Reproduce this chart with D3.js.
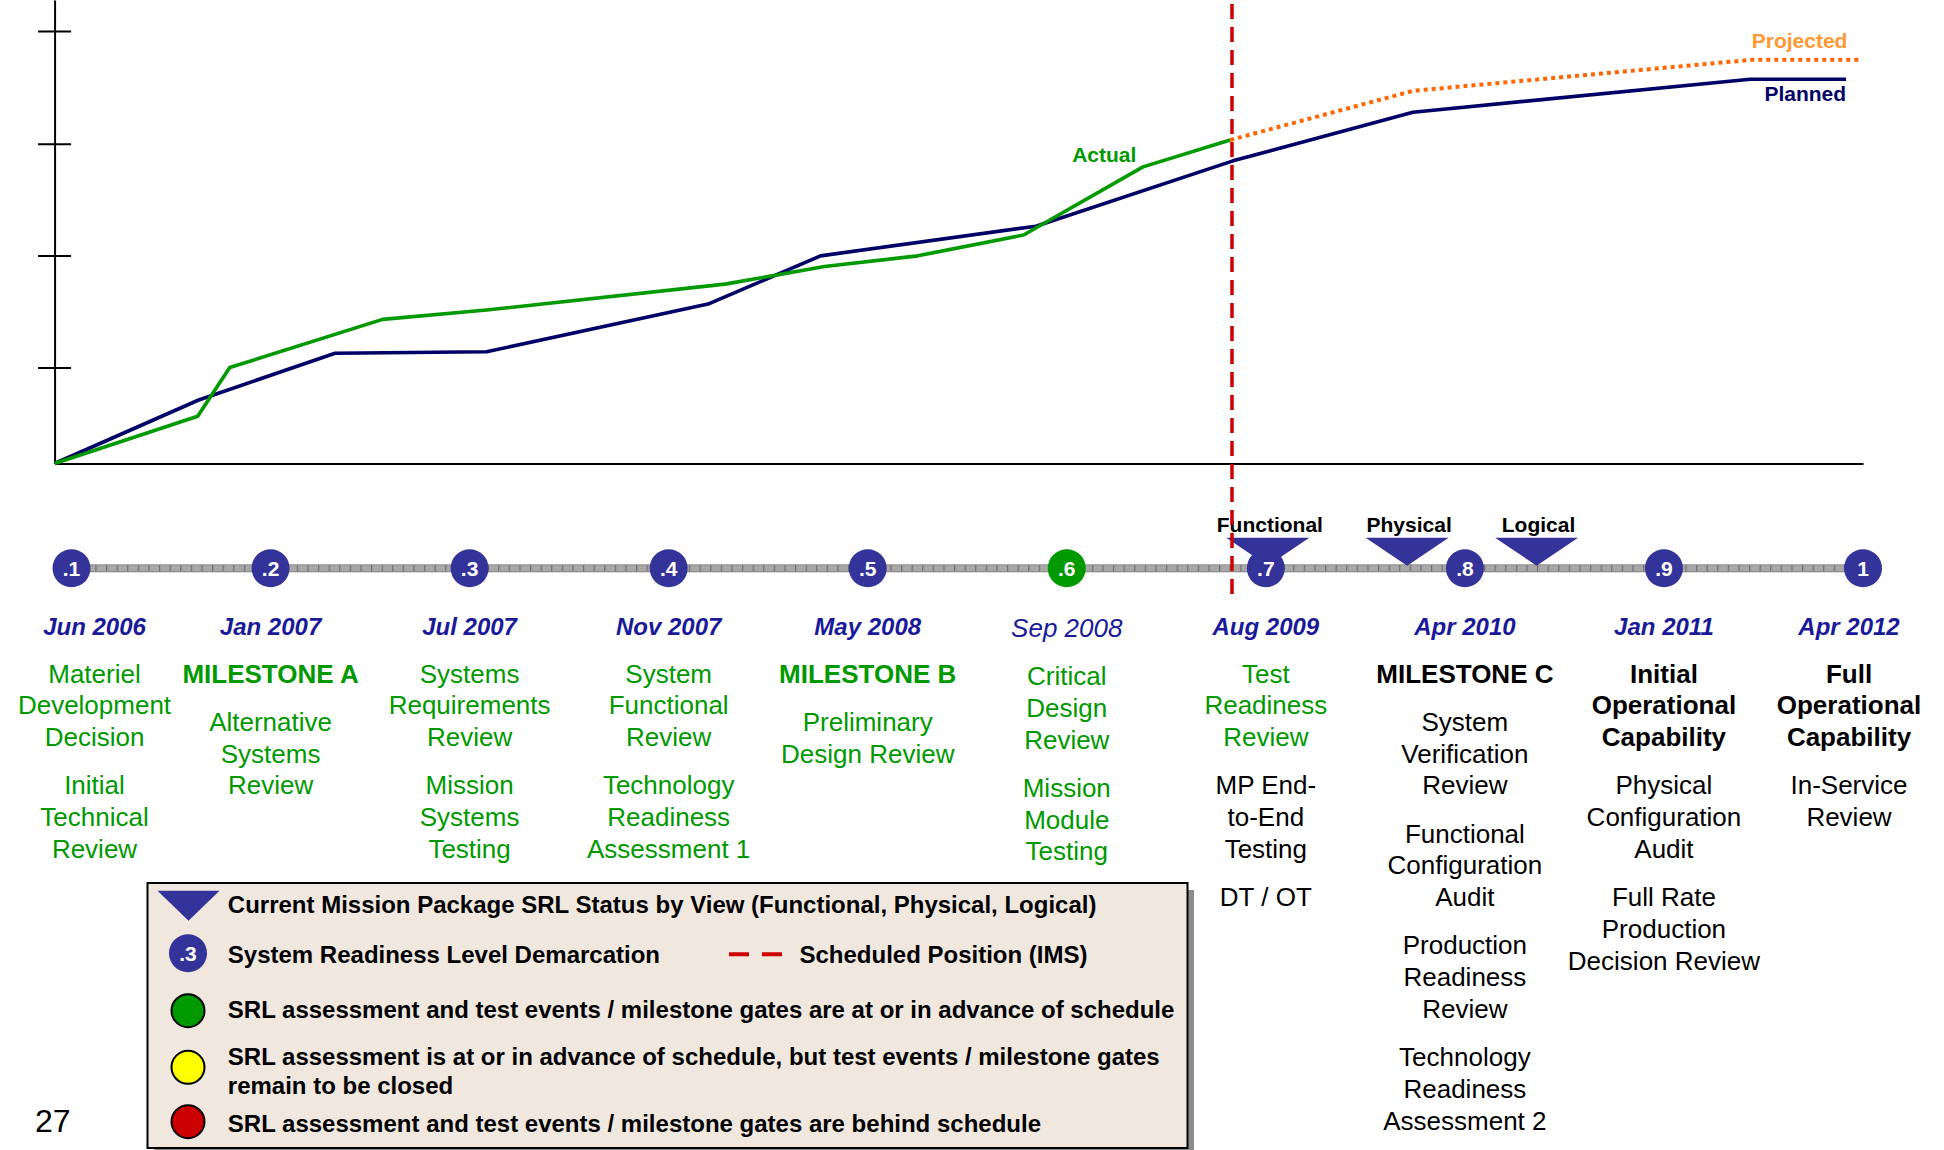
<!DOCTYPE html>
<html>
<head>
<meta charset="utf-8">
<script src="https://cdn.jsdelivr.net/npm/d3@7"></script>
<style>
  body { margin: 0; background: #fff; }
  text { font-family: "Liberation Sans", Arial, sans-serif; }
</style>
</head>
<body>
<div id="chart"></div>
<script>
// ---- data ----
// x values are positions on the SRL timeline (.1 .. 1), y values are relative maturity (0 .. 1)
const plannedX   = [0.0915, 0.1639, 0.2324, 0.3085, 0.4198, 0.4763, 0.5845, 0.6835, 0.7739, 0.9433, 0.9915];
const plannedY   = [0, 0.137, 0.238, 0.241, 0.344, 0.448, 0.512, 0.653, 0.758, 0.829, 0.829];
const actualX    = [0.0915, 0.1634, 0.1795, 0.2563, 0.3085, 0.4283, 0.4783, 0.5251, 0.5783, 0.6383, 0.6821];
const actualY    = [0, 0.102, 0.207, 0.311, 0.331, 0.387, 0.425, 0.448, 0.493, 0.640, 0.698];
const projectedX = [0.6821, 0.7739, 0.9441, 0.9977];
const projectedY = [0.698, 0.804, 0.871, 0.871];
const yTicks     = [0.207, 0.449, 0.690, 0.933];
const scheduledPosition = 0.683;

const srlLevels = [0.1, 0.2, 0.3, 0.4, 0.5, 0.6, 0.7, 0.8, 0.9, 1.0];
const srlLabels = [".1", ".2", ".3", ".4", ".5", ".6", ".7", ".8", ".9", "1"];
const srlStatus = ["demarc", "demarc", "demarc", "demarc", "demarc", "green", "demarc", "demarc", "demarc", "demarc"];
const srlDates  = ["Jun 2006", "Jan 2007", "Jul 2007", "Nov 2007", "May 2008", "Sep 2008", "Aug 2009", "Apr 2010", "Jan 2011", "Apr 2012"];

const viewNames  = ["Functional", "Physical", "Logical"];
const viewLevels = [0.701, 0.771, 0.836];

// events under each SRL level: [state, isGate, lines]
const srlEvents = [
  [["done", false, ["Materiel", "Development", "Decision"]], ["done", false, ["Initial", "Technical", "Review"]]],
  [["done", true, ["MILESTONE A"]], ["done", false, ["Alternative", "Systems", "Review"]]],
  [["done", false, ["Systems", "Requirements", "Review"]], ["done", false, ["Mission", "Systems", "Testing"]]],
  [["done", false, ["System", "Functional", "Review"]], ["done", false, ["Technology", "Readiness", "Assessment 1"]]],
  [["done", true, ["MILESTONE B"]], ["done", false, ["Preliminary", "Design Review"]]],
  [["done", false, ["Critical", "Design", "Review"]], ["done", false, ["Mission", "Module", "Testing"]]],
  [["done", false, ["Test", "Readiness", "Review"]], ["open", false, ["MP End-", "to-End", "Testing"]], ["open", false, ["DT / OT"]]],
  [["open", true, ["MILESTONE C"]], ["open", false, ["System", "Verification", "Review"]], ["open", false, ["Functional", "Configuration", "Audit"]],
   ["open", false, ["Production", "Readiness", "Review"]], ["open", false, ["Technology", "Readiness", "Assessment 2"]]],
  [["open", true, ["Initial", "Operational", "Capability"]], ["open", false, ["Physical", "Configuration", "Audit"]], ["open", false, ["Full Rate", "Production", "Decision Review"]]],
  [["open", true, ["Full", "Operational", "Capability"]], ["open", false, ["In-Service", "Review"]]]
];

const legendStatusColors = ["#009900", "#FFFF00", "#CC0000"];
const legendStatusText = [
  ["SRL assessment and test events / milestone gates are at or in advance of schedule"],
  ["SRL assessment is at or in advance of schedule, but test events / milestone gates", "remain to be closed"],
  ["SRL assessment and test events / milestone gates are behind schedule"]
];
const pageNumber = "27";

// ---- drawing ----
const W = 1944, H = 1150;
const navy = "#000066", green = "#009900", blue = "#333399", dateBlue = "#1a1a99";

const svg = d3.select("#chart").append("svg")
  .attr("width", W).attr("height", H)
  .style("display", "block");
svg.append("rect").attr("width", W).attr("height", H).attr("fill", "#fff");

const x = d3.scaleLinear().domain([0.1, 1.0]).range([71.5, 1863]);
const xChart = x.copy().domain([0.0915, 1.0]).range([x(0.0915), x(1.0)]);
const y = d3.scaleLinear().domain([0, 1]).range([463.5, 0]);

// axes
const yAxis = svg.append("g")
  .attr("transform", "translate(" + xChart(0.0915) + ",0)")
  .call(d3.axisLeft(y).tickValues(yTicks).tickSizeOuter(0).tickFormat(""));
yAxis.selectAll(".tick line").attr("x1", -16.5).attr("x2", 16.5);
yAxis.selectAll("line, path").attr("stroke", "#000").attr("stroke-width", 2);

const xAxis = svg.append("g")
  .attr("transform", "translate(0," + y(0) + ")")
  .call(d3.axisBottom(xChart).tickValues([]).tickSizeOuter(0));
xAxis.select("path").attr("stroke", "#000").attr("stroke-width", 2.2);

const line = d3.line().x(d => xChart(d[0])).y(d => y(d[1]));
const planned = d3.zip(plannedX, plannedY);
const actual = d3.zip(actualX, actualY);
const projected = d3.zip(projectedX, projectedY);

svg.append("path").datum(planned).attr("d", line)
  .attr("fill", "none").attr("stroke", navy).attr("stroke-width", 3.6).attr("stroke-linejoin", "round");
svg.append("path").datum(actual).attr("d", line)
  .attr("fill", "none").attr("stroke", green).attr("stroke-width", 3.6).attr("stroke-linejoin", "round");
svg.append("path").datum(projected).attr("d", line)
  .attr("fill", "none").attr("stroke", "#FF6600").attr("stroke-width", 4).attr("stroke-dasharray", "4,4");

// series labels
const lastA = actual[actual.length - 1], lastP = planned[planned.length - 1], lastJ = projected[projected.length - 1];
svg.append("text").attr("x", xChart(lastA[0]) - 158).attr("y", y(lastA[1]) + 22)
  .attr("fill", green).attr("font-weight", "bold").attr("font-size", 21).text("Actual");
svg.append("text").attr("x", xChart(lastP[0])).attr("y", y(lastP[1]) + 22).attr("text-anchor", "end")
  .attr("fill", navy).attr("font-weight", "bold").attr("font-size", 21).text("Planned");
svg.append("text").attr("x", xChart(lastJ[0]) - 11).attr("y", y(lastJ[1]) - 12).attr("text-anchor", "end")
  .attr("fill", "#FF9933").attr("font-weight", "bold").attr("font-size", 21).text("Projected");

// timeline track
const defs = svg.append("defs");
const checker = defs.append("pattern").attr("id", "checker")
  .attr("width", 2).attr("height", 2).attr("patternUnits", "userSpaceOnUse");
checker.append("rect").attr("width", 2).attr("height", 2).attr("fill", "#c2c2c2");
checker.append("rect").attr("width", 1).attr("height", 1).attr("fill", "#8e8e8e");
checker.append("rect").attr("x", 1).attr("y", 1).attr("width", 1).attr("height", 1).attr("fill", "#8e8e8e");
const track = defs.append("pattern").attr("id", "track")
  .attr("width", 10.6).attr("height", 8).attr("patternUnits", "userSpaceOnUse").attr("y", 564.3);
track.append("rect").attr("width", 10.6).attr("height", 8).attr("fill", "url(#checker)");
track.append("rect").attr("width", 1.2).attr("height", 8).attr("fill", "#6e6e6e");
track.append("rect").attr("width", 10.6).attr("height", 1).attr("fill", "#888");
track.append("rect").attr("y", 7).attr("width", 10.6).attr("height", 1).attr("fill", "#888");

const trackY = 568.3;
svg.append("rect")
  .attr("x", x(srlLevels[0])).attr("y", trackY - 4)
  .attr("width", x(srlLevels[srlLevels.length - 1]) - x(srlLevels[0])).attr("height", 8)
  .attr("fill", "url(#track)");

const srl = srlLevels.map((v, i) => ({ v, label: srlLabels[i], status: srlStatus[i], date: srlDates[i], events: srlEvents[i] }));

svg.append("g").selectAll("circle").data(srl).enter().append("circle")
  .attr("cx", d => x(d.v)).attr("cy", trackY).attr("r", 19)
  .attr("fill", d => d.status === "green" ? green : blue);

// view triangles
const tri = (cx, top, w, h) => d3.line()([[cx - w / 2, top], [cx + w / 2, top], [cx, top + h]]) + "Z";
const views = viewNames.map((n, i) => ({ name: n, v: viewLevels[i] }));
svg.append("g").selectAll("path").data(views).enter().append("path")
  .attr("d", d => tri(x(d.v), 537.7, 83, 28)).attr("fill", blue);
svg.append("g").selectAll("text").data(views).enter().append("text")
  .attr("x", d => x(d.v) + 2).attr("y", 531.7).attr("text-anchor", "middle")
  .attr("font-size", 21).attr("font-weight", "bold").attr("fill", "#000").text(d => d.name);

svg.append("g").selectAll("text").data(srl).enter().append("text")
  .attr("x", d => x(d.v)).attr("y", trackY + 7.5).attr("text-anchor", "middle")
  .attr("font-size", 21).attr("font-weight", "bold").attr("fill", "#fff").text(d => d.label);

// columns of dates and events
const colX = d => Math.max(94.5, Math.min(1849, x(d.v)));
svg.append("g").selectAll("text").data(srl).enter().append("text")
  .attr("x", colX).attr("y", d => d.status === "green" ? 637 : 635)
  .attr("text-anchor", "middle").attr("font-style", "italic")
  .attr("font-weight", d => d.status === "green" ? "normal" : "bold")
  .attr("font-size", d => d.status === "green" ? 26 : 24)
  .attr("fill", dateBlue).text(d => d.date);

const lineH = 31.7, groupGap = 48.3;
srl.forEach(d => {
  let by = 682.7 + (d.status === "green" ? 2.5 : 0);
  const g = svg.append("g");
  d.events.forEach((ev, gi) => {
    if (gi > 0) by += groupGap - lineH;
    ev[2].forEach(t => {
      g.append("text").attr("x", colX(d)).attr("y", by).attr("text-anchor", "middle")
        .attr("font-size", 26).attr("font-weight", ev[1] ? "bold" : "normal")
        .attr("fill", ev[0] === "done" ? green : "#000").text(t);
      by += lineH;
    });
  });
});

// scheduled position (IMS)
svg.append("line")
  .attr("x1", x(scheduledPosition)).attr("x2", x(scheduledPosition))
  .attr("y1", 4).attr("y2", 598)
  .attr("stroke", "#CC0000").attr("stroke-width", 3.5).attr("stroke-dasharray", "15,8");

// legend
const lg = svg.append("g");
lg.append("rect").attr("x", 154).attr("y", 890).attr("width", 1040).attr("height", 265).attr("fill", "#8c8c8c");
lg.append("rect").attr("x", 147.5).attr("y", 883).attr("width", 1040).attr("height", 265)
  .attr("fill", "#F0E8DF").attr("stroke", "#000").attr("stroke-width", 2);
lg.append("path").attr("d", tri(188.5, 890.7, 62, 30)).attr("fill", blue);
const lt = (tx, ty, s) => lg.append("text").attr("x", tx).attr("y", ty)
  .attr("font-size", 24).attr("font-weight", "bold").attr("fill", "#000").text(s);
lt(227.8, 913.3, "Current Mission Package SRL Status by View (" + viewNames.join(", ") + ")");
lg.append("circle").attr("cx", 188).attr("cy", 953.3).attr("r", 19).attr("fill", blue);
lg.append("text").attr("x", 188).attr("y", 961).attr("text-anchor", "middle")
  .attr("font-size", 21).attr("font-weight", "bold").attr("fill", "#fff").text(srlLabels[2]);
lt(227.8, 962.7, "System Readiness Level Demarcation");
lg.append("line").attr("x1", 729).attr("x2", 783).attr("y1", 954.3).attr("y2", 954.3)
  .attr("stroke", "#CC0000").attr("stroke-width", 4).attr("stroke-dasharray", "20,13");
lt(799.5, 962.7, "Scheduled Position (IMS)");

const statusCy = [1010.7, 1067.3, 1121.7];
const statusTy = [1018.3, 1065, 1131.7];
legendStatusColors.forEach((c, i) => {
  lg.append("circle").attr("cx", 188).attr("cy", statusCy[i]).attr("r", 16.5)
    .attr("fill", c).attr("stroke", "#000").attr("stroke-width", 2);
  legendStatusText[i].forEach((s, j) => lt(227.8, statusTy[i] + j * 29, s));
});

svg.append("text").attr("x", 35).attr("y", 1131.7).attr("font-size", 32).attr("fill", "#000").text(pageNumber);
</script>
</body>
</html>
